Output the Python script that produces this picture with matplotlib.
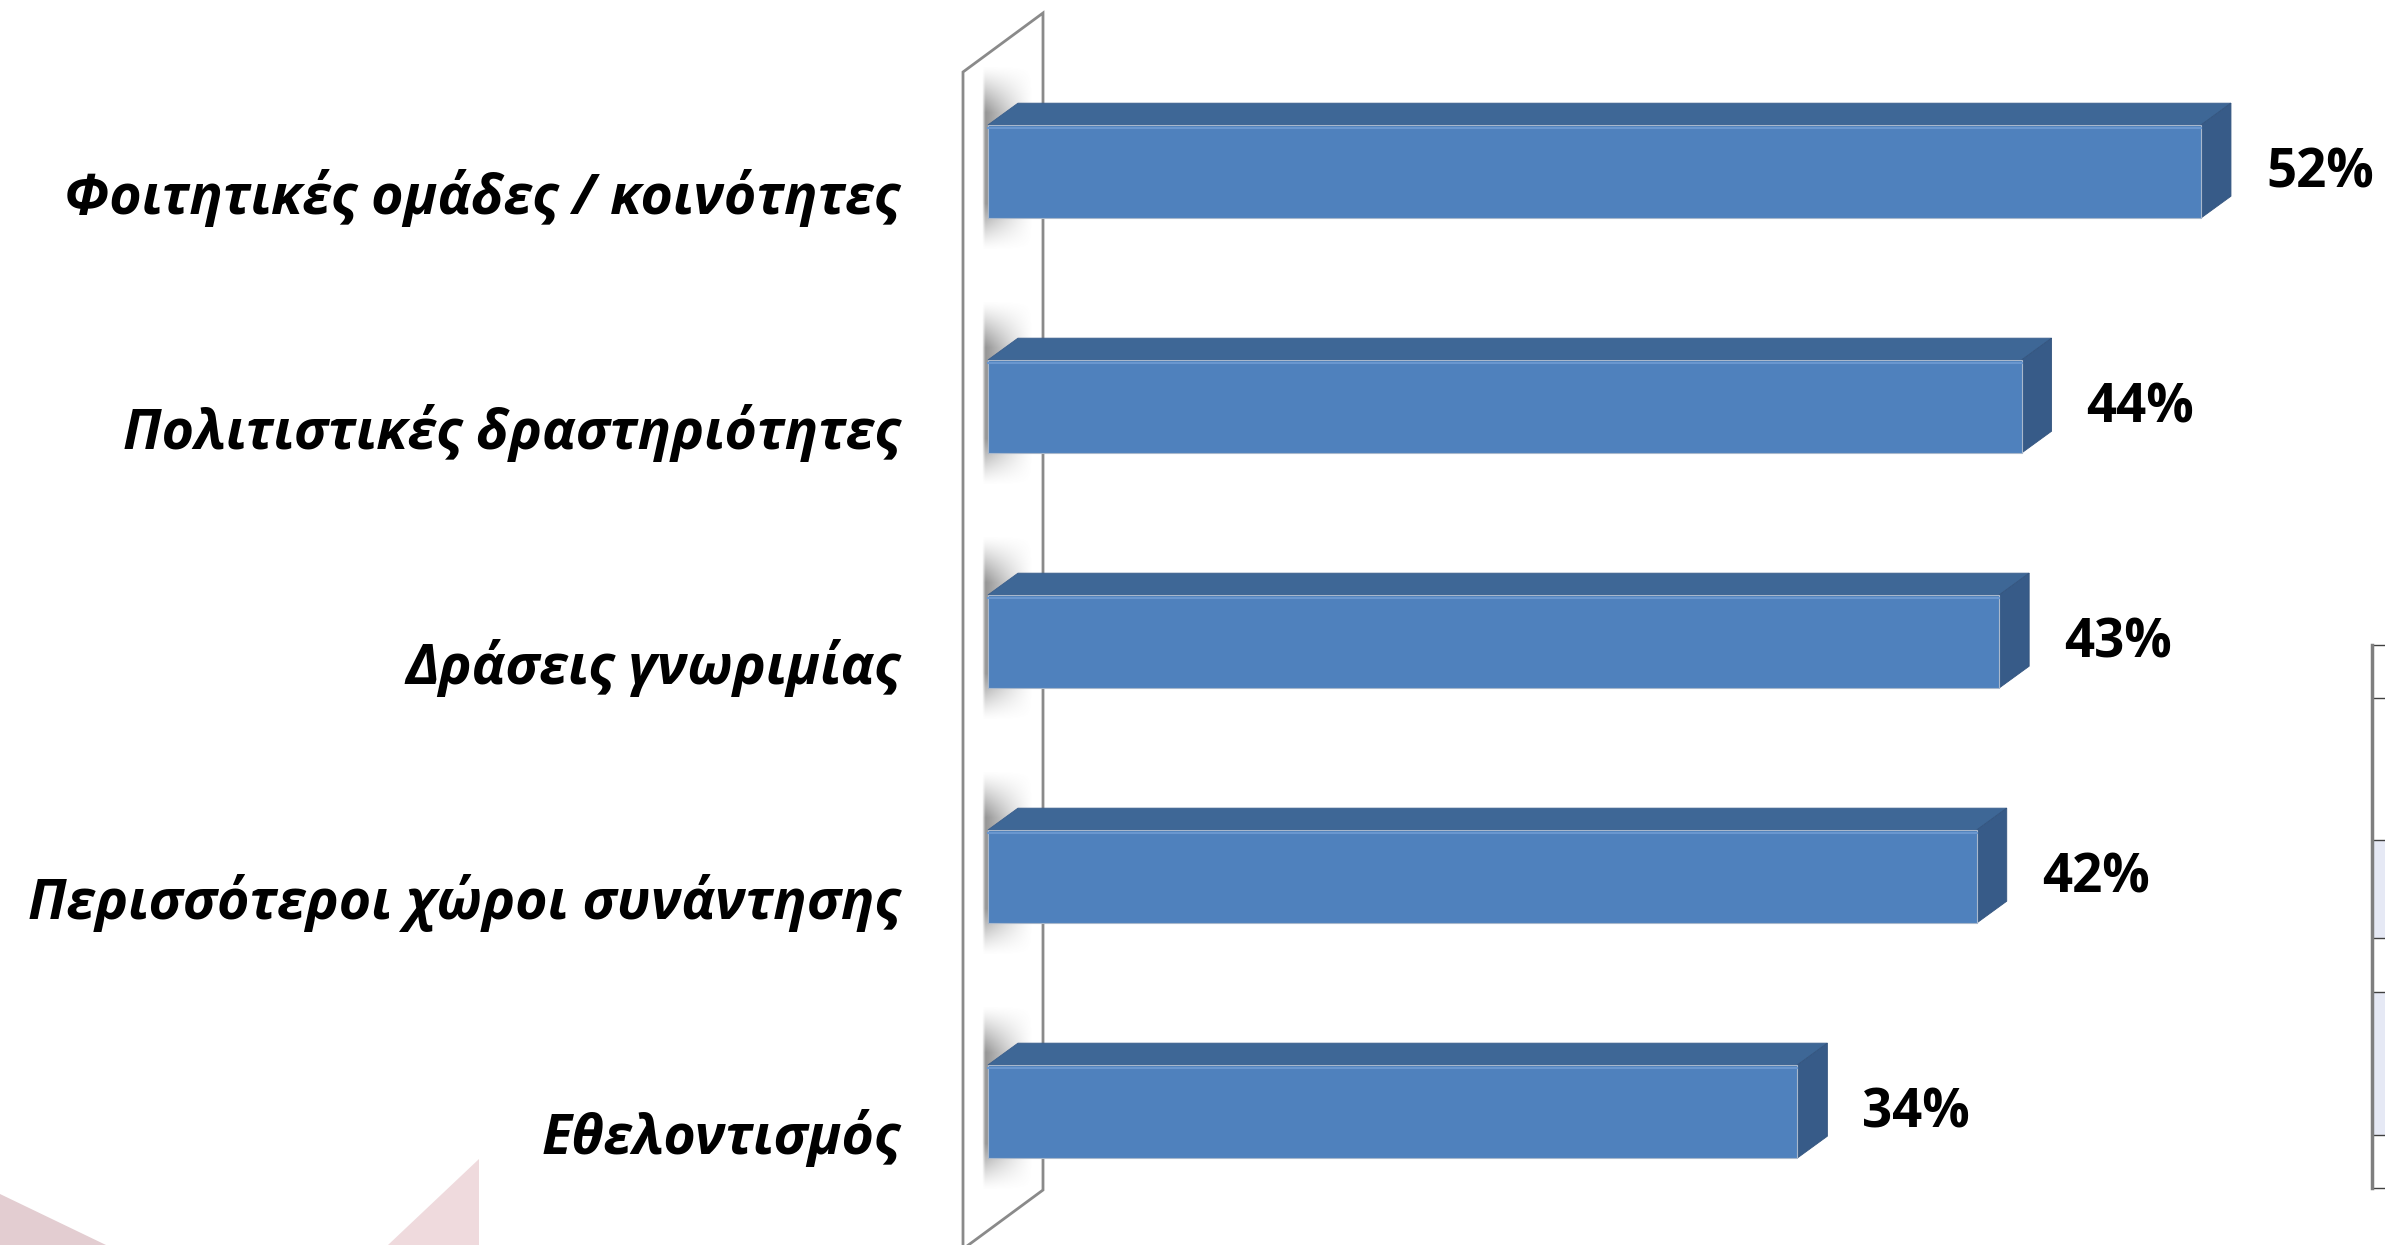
import matplotlib.pyplot as plt
import numpy as np
from matplotlib.patches import Polygon

# data
categories = ['Φοιτητικές ομάδες / κοινότητες',
              'Πολιτιστικές δραστηριότητες',
              'Δράσεις γνωριμίας',
              'Περισσότεροι χώροι συνάντησης',
              'Εθελοντισμός']
values = [52, 44, 43, 42, 34]
value_labels = ['52%', '44%', '43%', '42%', '34%']

front_col = '#4F81BD'
top_col = '#3E6796'
side_col = '#375B88'
W, H = 2385, 1245
FONT = ['Open Sans', 'DejaVu Sans']

fig = plt.figure(figsize=(W / 100, H / 100), dpi=100)
ax = fig.add_axes([0, 0, 1, 1])
ax.set_xlim(-46.16, 60.21)
ax.set_ylim(4.568, -0.73)
ax.axis('off')


def fp(x, y):
    # pixel position -> figure fraction (for the decoration only)
    return (x / W, 1 - y / H)


# wall of the 3d chart
wall = [fp(963, 72), fp(1043, 13), fp(1043, 1190), fp(963, 1249)]
ax.add_patch(Polygon(wall, closed=True, facecolor='white', edgecolor='#8A8A8A',
                     linewidth=2.0, transform=fig.transFigure, zorder=1))

# bits of the slide behind the chart
ax.add_patch(Polygon([fp(0, 1194), fp(106, 1245), fp(0, 1245)], facecolor='#E3CDD1',
                     edgecolor='none', transform=fig.transFigure, zorder=0))
ax.add_patch(Polygon([fp(479, 1159), fp(479, 1245), fp(388, 1245)], facecolor='#EFDADD',
                     edgecolor='none', transform=fig.transFigure, zorder=0))

# cut off table at right edge
rows = [645, 698, 840, 938, 992, 1135, 1188]
for a, b in [(840, 938), (992, 1135)]:
    ax.add_patch(Polygon([fp(2372, a), fp(W, a), fp(W, b), fp(2372, b)], facecolor='#E6E9F5',
                         edgecolor='none', transform=fig.transFigure, zorder=0))
for r in rows:
    ax.plot([2372 / W, 1], [1 - r / H] * 2, color='#404040', lw=1, transform=fig.transFigure)
ax.plot([2372 / W] * 2, [1 - 645 / H, 1 - 1188 / H], color='#7F7F7F', lw=2.5,
        transform=fig.transFigure)

y = np.arange(len(values))
h = 0.396
dx, dy = 1.34, 0.093
depth = 2.1   # bars start at the front of the wall, left of zero

# soft shadow on the wall behind each bar
xs = np.linspace(0, 1, 60)
ys = np.linspace(0, 1, 80)
X, Y = np.meshgrid(xs, ys)
alpha = 0.9 * np.clip(np.sin(np.pi * Y) * 1.4, 0, 1) ** 1.3 \
    * np.clip(X / 0.06, 0, 1) * np.clip(1 - X, 0, 1) ** 1.2
shade = np.zeros((80, 60, 4))
shade[..., :3] = 0.5
shade[..., 3] = alpha
for yc in y:
    ax.imshow(shade, extent=(-2.36, -0.1, yc + 0.34, yc - 0.45), origin='upper',
              aspect='auto', zorder=2, interpolation='bilinear')

bars = ax.barh(y, np.array(values) + depth, left=-depth, height=h, color=front_col,
               edgecolor='#A9B8CC', linewidth=0.8, zorder=4)
for b in bars:
    x0, y0, w, hh = b.get_x(), b.get_y(), b.get_width(), b.get_height()
    top_face = [(x0, y0), (x0 + w, y0), (x0 + w + dx, y0 - dy), (x0 + dx, y0 - dy)]
    side_face = [(x0 + w, y0), (x0 + w + dx, y0 - dy), (x0 + w + dx, y0 + hh - dy), (x0 + w, y0 + hh)]
    ax.add_patch(Polygon(top_face, closed=True, facecolor=top_col, edgecolor='#3A5E8C',
                         linewidth=0.6, zorder=3))
    ax.add_patch(Polygon(side_face, closed=True, facecolor=side_col, edgecolor='#34557F',
                         linewidth=0.6, zorder=3))
    # light edge along the top of the front face
    ax.plot([x0, x0 + w], [y0 + 0.012, y0 + 0.012], color='#6A97CF', lw=1.5, zorder=5)

for yi, cat in zip(y, categories):
    ax.text(-6.02, yi + 0.18, cat, ha='right', va='baseline', fontsize=40,
            fontweight='bold', fontstyle='italic', family=FONT)

for yi, v, lab in zip(y, values, value_labels):
    ax.text(v + 2.9, yi + 0.07, lab, ha='left', va='baseline', fontsize=38,
            fontweight='bold', family=FONT)

fig.savefig('out.png', dpi=100)
